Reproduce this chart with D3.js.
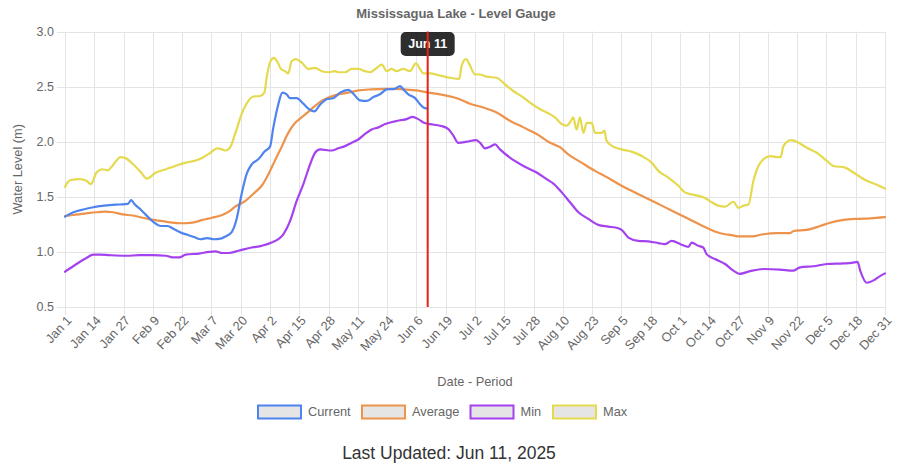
<!DOCTYPE html>
<html>
<head>
<meta charset="utf-8">
<script src="https://cdn.jsdelivr.net/npm/d3@7"></script>
<style>
  html, body { margin: 0; padding: 0; background: #fff; }
  svg { display: block; }
</style>
</head>
<body>
<svg id="chart" width="897" height="465"></svg>
<script>
// ---- Data (day index from Jan 1, value in metres) ----
const tickLabels = ["Jan 1","Jan 14","Jan 27","Feb 9","Feb 22","Mar 7","Mar 20","Apr 2","Apr 15","Apr 28","May 11","May 24","Jun 6","Jun 19","Jul 2","Jul 15","Jul 28","Aug 10","Aug 23","Sep 5","Sep 18","Oct 1","Oct 14","Oct 27","Nov 9","Nov 22","Dec 5","Dec 18","Dec 31"];
const yTicks = [0.5, 1.0, 1.5, 2.0, 2.5, 3.0];
const seriesNames = ["Current", "Average", "Min", "Max"];
const seriesColors = ["#4f84ef", "#ee934c", "#a442ef", "#e5d94e"];
const markerDay = 161;
const markerLabel = "Jun 11";

const currentData = [[0,1.32],[3.7,1.36],[8.1,1.385],[12.5,1.405],[15.4,1.415],[19.8,1.425],[24.2,1.43],[27.9,1.435],[29.4,1.47],[30.8,1.435],[33.8,1.38],[36.7,1.32],[39.6,1.265],[42.6,1.235],[45.5,1.235],[48.5,1.205],[51.4,1.175],[54.3,1.155],[57.3,1.135],[60.2,1.115],[63.1,1.125],[66.1,1.115],[69,1.12],[71.2,1.14],[74,1.18],[76.2,1.3],[78.4,1.525],[80.6,1.705],[82.9,1.795],[85.8,1.84],[88.8,1.915],[91,1.955],[92.5,2.13],[94.7,2.34],[96.5,2.445],[98.4,2.43],[99.9,2.395],[102.8,2.395],[105.8,2.345],[108,2.3],[110.7,2.275],[113.2,2.335],[116.2,2.385],[119.1,2.395],[122.1,2.445],[125.8,2.47],[128,2.435],[131,2.375],[133.9,2.37],[136.9,2.405],[139.8,2.43],[142.8,2.475],[146.5,2.48],[148.7,2.505],[150.2,2.475],[152.4,2.43],[155.4,2.395],[157.6,2.34],[159.1,2.31],[160.8,2.3]];

const averageData = [[0,1.325],[3.7,1.335],[9.5,1.35],[14,1.36],[17.6,1.365],[21.3,1.36],[25.7,1.34],[30,1.33],[34.5,1.31],[38.9,1.29],[43.3,1.28],[47.7,1.265],[52.1,1.26],[56.5,1.265],[61,1.29],[65.3,1.31],[69.8,1.335],[72.7,1.365],[75.5,1.41],[79.9,1.46],[84.3,1.54],[87.3,1.6],[90.3,1.705],[93.2,1.83],[96.2,1.955],[99.1,2.08],[102.1,2.17],[105,2.22],[108,2.27],[111,2.325],[113.9,2.37],[116.9,2.4],[121.3,2.43],[125.8,2.445],[130.2,2.465],[136.1,2.475],[142,2.48],[146.5,2.48],[150.2,2.475],[156.1,2.465],[161.3,2.445],[166.5,2.43],[173.9,2.395],[179.8,2.345],[185.7,2.31],[191.6,2.265],[197.5,2.19],[203.5,2.13],[209.4,2.07],[215.3,1.99],[219.7,1.95],[223.4,1.885],[229.3,1.81],[235.3,1.735],[241.2,1.67],[247.1,1.6],[253,1.54],[258.9,1.48],[264.9,1.42],[270.8,1.36],[276.7,1.3],[282.6,1.24],[288.5,1.185],[293,1.16],[295.2,1.155],[299.7,1.14],[304.9,1.14],[310,1.16],[316,1.17],[321.9,1.17],[323.4,1.19],[329.3,1.2],[335.2,1.235],[339.6,1.265],[345.6,1.29],[351.5,1.3],[357.4,1.305],[364,1.315]];

const minData = [[0,0.82],[5.1,0.89],[9.5,0.945],[12.5,0.975],[15.4,0.975],[19.8,0.97],[27.2,0.965],[33,0.97],[38.9,0.97],[44.8,0.965],[47.7,0.95],[50.7,0.95],[53.6,0.975],[59.5,0.985],[63.9,1.0],[66.8,1.005],[69.8,0.99],[72.7,0.99],[77,1.01],[82.9,1.04],[87.3,1.055],[91.7,1.085],[96.9,1.16],[99.9,1.28],[102.8,1.46],[105.8,1.615],[108.8,1.795],[111,1.9],[113.2,1.93],[118.4,1.92],[121.3,1.94],[124.3,1.96],[127.3,1.99],[130.2,2.02],[133.2,2.07],[136.1,2.11],[139.1,2.13],[142.1,2.16],[146.5,2.185],[148.7,2.195],[151.7,2.205],[154.3,2.225],[156.8,2.205],[159.1,2.175],[162,2.16],[166.5,2.145],[170.2,2.115],[172.4,2.055],[174.6,1.99],[178.3,2.0],[182.5,2.015],[184.5,1.985],[186.4,1.94],[188.7,1.955],[190.9,1.975],[193.1,1.93],[197.5,1.855],[203.5,1.78],[209.4,1.72],[213.8,1.66],[216.8,1.62],[220.5,1.54],[224.2,1.45],[227.9,1.36],[232.3,1.3],[236.7,1.245],[241.2,1.23],[245.6,1.215],[247.1,1.2],[250.1,1.13],[254.5,1.1],[258.9,1.095],[263.4,1.08],[266.3,1.07],[269.3,1.1],[273.7,1.065],[276.7,1.045],[278.2,1.085],[281.1,1.055],[283.3,1.04],[284.8,0.98],[288.5,0.935],[293,0.89],[296.7,0.83],[299.4,0.8],[304.1,0.825],[310,0.845],[317.4,0.84],[323.4,0.83],[326.3,0.86],[332.2,0.87],[338.2,0.89],[345.6,0.895],[349.3,0.9],[351.8,0.91],[353,0.83],[355.9,0.72],[359.6,0.75],[361.8,0.78],[364,0.805]];

const maxData = [[0,1.59],[2.2,1.65],[6.6,1.66],[9.5,1.645],[11.5,1.615],[14,1.72],[16.6,1.75],[19,1.74],[21,1.78],[24.7,1.86],[26.4,1.855],[30,1.8],[33.8,1.72],[36.3,1.665],[40.4,1.72],[44.8,1.75],[49,1.78],[53.6,1.81],[58,1.83],[61,1.855],[64.6,1.9],[67.5,1.94],[69.8,1.93],[71.2,1.92],[73.2,1.945],[75.5,2.07],[78.4,2.25],[81.4,2.37],[83.6,2.41],[86.6,2.415],[88.5,2.445],[89.5,2.58],[91,2.72],[92.8,2.76],[94.4,2.72],[95.9,2.66],[97.7,2.64],[99.1,2.62],[100.6,2.73],[102.4,2.75],[105,2.72],[108,2.66],[111,2.67],[114,2.64],[116.9,2.63],[119.9,2.64],[121.3,2.63],[124.3,2.63],[127.3,2.66],[130.2,2.66],[133.2,2.64],[135.4,2.63],[138.4,2.67],[140.6,2.7],[142.8,2.64],[145,2.66],[147.2,2.64],[150.2,2.66],[153.1,2.64],[155.8,2.71],[157.6,2.66],[159.1,2.62],[162,2.62],[166.5,2.6],[171,2.58],[175,2.57],[176.1,2.69],[178,2.75],[179.8,2.69],[182,2.61],[184.2,2.61],[187.2,2.59],[191.6,2.58],[195.3,2.52],[199,2.46],[203.5,2.4],[206.4,2.355],[210.9,2.295],[215.3,2.25],[217.5,2.22],[220.5,2.16],[222.7,2.145],[224.9,2.2],[225.6,2.22],[227.1,2.11],[228.6,2.22],[230.1,2.08],[231.6,2.17],[233.8,2.17],[235.3,2.08],[238.2,2.08],[239.4,2.1],[240.4,2.01],[243.4,1.955],[247.1,1.93],[251.5,1.91],[256,1.87],[260.4,1.81],[263.4,1.735],[267.8,1.675],[272.3,1.6],[275.2,1.54],[279.6,1.515],[284.1,1.49],[287.1,1.45],[290,1.42],[293,1.41],[296.7,1.455],[298.9,1.4],[301.2,1.42],[303.4,1.43],[305.6,1.645],[307.8,1.78],[310,1.84],[313,1.87],[316.7,1.86],[317.7,1.86],[318.9,1.96],[322.2,2.015],[324.8,2.0],[329.3,1.945],[333.7,1.9],[338.2,1.825],[341.1,1.78],[346.3,1.765],[350,1.72],[355.9,1.645],[360.3,1.61],[364,1.575]];

const allSeries = [currentData, averageData, minData, maxData];

// ---- Layout ----
const svg = d3.select("#chart");
const plotLeft = 65, plotRight = 885, plotTop = 31.5, plotBottom = 307;
const FONT = "'Liberation Sans', Arial, Helvetica, sans-serif";
const x = d3.scaleLinear().domain([0, 364]).range([plotLeft, plotRight]);
const y = d3.scaleLinear().domain([0.5, 3.0]).range([plotBottom, plotTop]);

// grid
const grid = svg.append("g");
tickLabels.forEach((t, i) => {
  const xp = Math.round(x(i * 13)) + 0.5;
  grid.append("line").attr("x1", xp).attr("x2", xp).attr("y1", plotTop).attr("y2", plotBottom + 8)
    .attr("stroke", "#e4e4e4").attr("stroke-width", 1);
});
yTicks.forEach(v => {
  const yp = Math.round(y(v)) + 0.5;
  grid.append("line").attr("x1", plotLeft - 8).attr("x2", plotRight).attr("y1", yp).attr("y2", yp)
    .attr("stroke", "#e4e4e4").attr("stroke-width", 1);
});

// y tick labels
yTicks.forEach(v => {
  svg.append("text").attr("x", 54).attr("y", y(v)).attr("dy", "0.35em")
    .attr("text-anchor", "end").attr("font-family", FONT).attr("font-size", 12.5)
    .attr("fill", "#666").text(v.toFixed(1));
});

// x tick labels (rotated)
tickLabels.forEach((t, i) => {
  const xp = x(i * 13);
  svg.append("text")
    .attr("transform", `translate(${xp + 4},${plotBottom + 11}) rotate(-47)`)
    .attr("text-anchor", "end").attr("dy", "0.35em")
    .attr("font-family", FONT).attr("font-size", 12.8).attr("fill", "#666").text(t);
});

// axis titles
svg.append("text").attr("transform", `translate(18,${(plotTop + plotBottom) / 2}) rotate(-90)`)
  .attr("text-anchor", "middle").attr("dy", "0.35em")
  .attr("font-family", FONT).attr("font-size", 12.8).attr("fill", "#666").text("Water Level (m)");
svg.append("text").attr("x", (plotLeft + plotRight) / 2).attr("y", 382).attr("dy", "0.35em")
  .attr("text-anchor", "middle").attr("font-family", FONT).attr("font-size", 12.8)
  .attr("fill", "#666").text("Date - Period");

// title
svg.append("text").attr("x", 456).attr("y", 13).attr("dy", "0.35em")
  .attr("text-anchor", "middle").attr("font-family", FONT).attr("font-size", 13)
  .attr("font-weight", "bold").attr("fill", "#666").text("Mississagua Lake - Level Gauge");

// lines (first dataset drawn on top)
const line = d3.line().x(d => x(d[0])).y(d => y(d[1])).curve(d3.curveMonotoneX);
for (let i = allSeries.length - 1; i >= 0; i--) {
  svg.append("path").datum(allSeries[i]).attr("d", line)
    .attr("fill", "none").attr("stroke", seriesColors[i]).attr("stroke-width", 2.2)
    .attr("stroke-linejoin", "round").attr("stroke-linecap", "round");
}

// tooltip box
const mx = x(markerDay);
const tip = svg.append("g");
tip.append("rect").attr("x", mx - 27).attr("y", 32).attr("width", 54).attr("height", 24)
  .attr("rx", 5).attr("fill", "rgba(0,0,0,0.82)");
tip.append("text").attr("x", mx).attr("y", 44).attr("dy", "0.35em").attr("text-anchor", "middle")
  .attr("font-family", FONT).attr("font-size", 12.5).attr("font-weight", "bold")
  .attr("fill", "#fff").text(markerLabel);

// marker line
svg.append("line").attr("x1", mx).attr("x2", mx).attr("y1", plotTop).attr("y2", plotBottom)
  .attr("stroke", "#e8221b").attr("stroke-width", 2);

// legend
const legendX = [258, 362, 470.5, 553];
seriesNames.forEach((n, i) => {
  const g = svg.append("g");
  g.append("rect").attr("x", legendX[i]).attr("y", 405.5).attr("width", 43).attr("height", 13)
    .attr("fill", "#e5e5e5").attr("stroke", seriesColors[i]).attr("stroke-width", 2);
  g.append("text").attr("x", legendX[i] + 50).attr("y", 412).attr("dy", "0.35em")
    .attr("font-family", FONT).attr("font-size", 12.8).attr("fill", "#666").text(n);
});

// footer
svg.append("text").attr("x", 449).attr("y", 453).attr("dy", "0.35em").attr("text-anchor", "middle")
  .attr("font-family", FONT).attr("font-size", 17.5).attr("fill", "#333")
  .text("Last Updated: Jun 11, 2025");
</script>
</body>
</html>
